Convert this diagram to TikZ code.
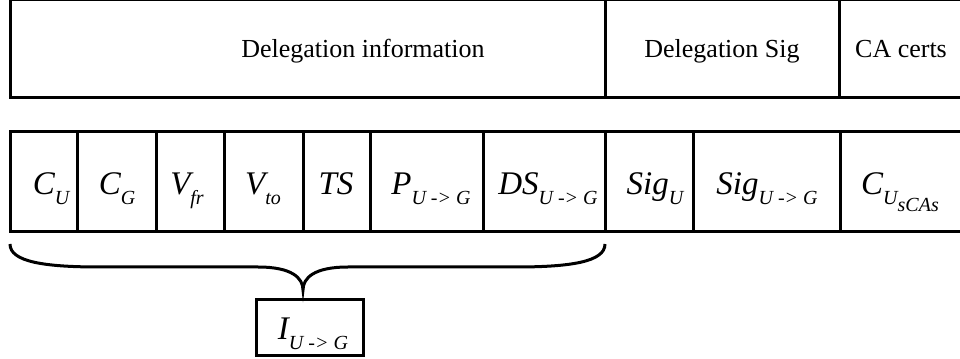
\documentclass[tikz,border=0pt]{standalone}
\usepackage{fontspec}
\setmainfont{LiberationSerif}[Extension=.ttf, UprightFont=*-Regular, ItalicFont=*-Italic, BoldFont=*-Bold]

\tikzset{every picture/.style={line width=2.25pt}}
\tikzset{
  fieldtxt/.style={anchor=base, inner sep=0.75pt, font=\fontsize{24.75}{26}\selectfont\itshape},
  headtxt/.style={anchor=base, inner sep=0.75pt, font=\fontsize{19.5}{22}\selectfont},
}
\newcommand{\fsub}[1]{\raisebox{-7.5pt}{\fontsize{15}{15}\selectfont #1}}

\begin{document}
\begin{tikzpicture}[x=0.75pt,y=0.75pt,yscale=-1,xscale=1]
\useasboundingbox (0,0) rectangle (960,359);

%Shape: Rectangle [header row]
\draw (10,0) rectangle (980,98) ;
%Straight Lines [header dividers]
\draw (605,0) -- (605,98) ;
\draw (839,0) -- (839,98) ;

%Shape: Rectangle [field row]
\draw (10,132) rectangle (980,232) ;
%Straight Lines [field dividers]
\draw (77,132) -- (77,232) ;
\draw (156,132) -- (156,232) ;
\draw (224,132) -- (224,232) ;
\draw (303,132) -- (303,232) ;
\draw (370,132) -- (370,232) ;
\draw (483,132) -- (483,232) ;
\draw (605,132) -- (605,232) ;
\draw (693,132) -- (693,232) ;
\draw (840,132) -- (840,232) ;

%Curve Lines [brace]
\draw (10,244) .. controls (10,262) and (45,267) .. (100,267) -- (258,267) .. controls (292,267) and (303,278) .. (303,290) .. controls (303,278) and (314,267) .. (348,267) -- (515,267) .. controls (570,267) and (605,262) .. (605,244) ;

%Shape: Rectangle [result box]
\draw (256,300) rectangle (363,356) ;

% Text Node
\node (delinfo) [headtxt] at (363,58) {Delegation information};
% Text Node
\node (delsig) [headtxt] at (722,58) {Delegation Sig};
% Text Node
\node (cacerts) [headtxt] at (901,58) {CA certs};

% Text Node
\node (cu) [fieldtxt] at (51,195) {C\fsub{U}};
% Text Node
\node (cg) [fieldtxt] at (117,195) {C\fsub{G}};
% Text Node
\node (vfr) [fieldtxt] at (187,195) {V\fsub{fr}};
% Text Node
\node (vto) [fieldtxt] at (263,195) {V\fsub{to}};
% Text Node
\node (ts) [fieldtxt] at (336,195) {TS};
% Text Node
\node (pug) [fieldtxt] at (431,195) {P\fsub{U -> G}};
% Text Node
\node (dsug) [fieldtxt] at (548,195) {DS\fsub{U -> G}};
% Text Node
\node (sigu) [fieldtxt] at (655,195) {Sig\fsub{U}};
% Text Node
\node (sigug) [fieldtxt] at (767,195) {Sig\fsub{U -> G}};
% Text Node
\node (cucas) [fieldtxt] at (900,195) {C\fsub{U\raisebox{-5pt}{sCAs}}};

% Text Node
\node (iug) [fieldtxt] at (313,340) {I\fsub{U -> G}};

\end{tikzpicture}
\end{document}
